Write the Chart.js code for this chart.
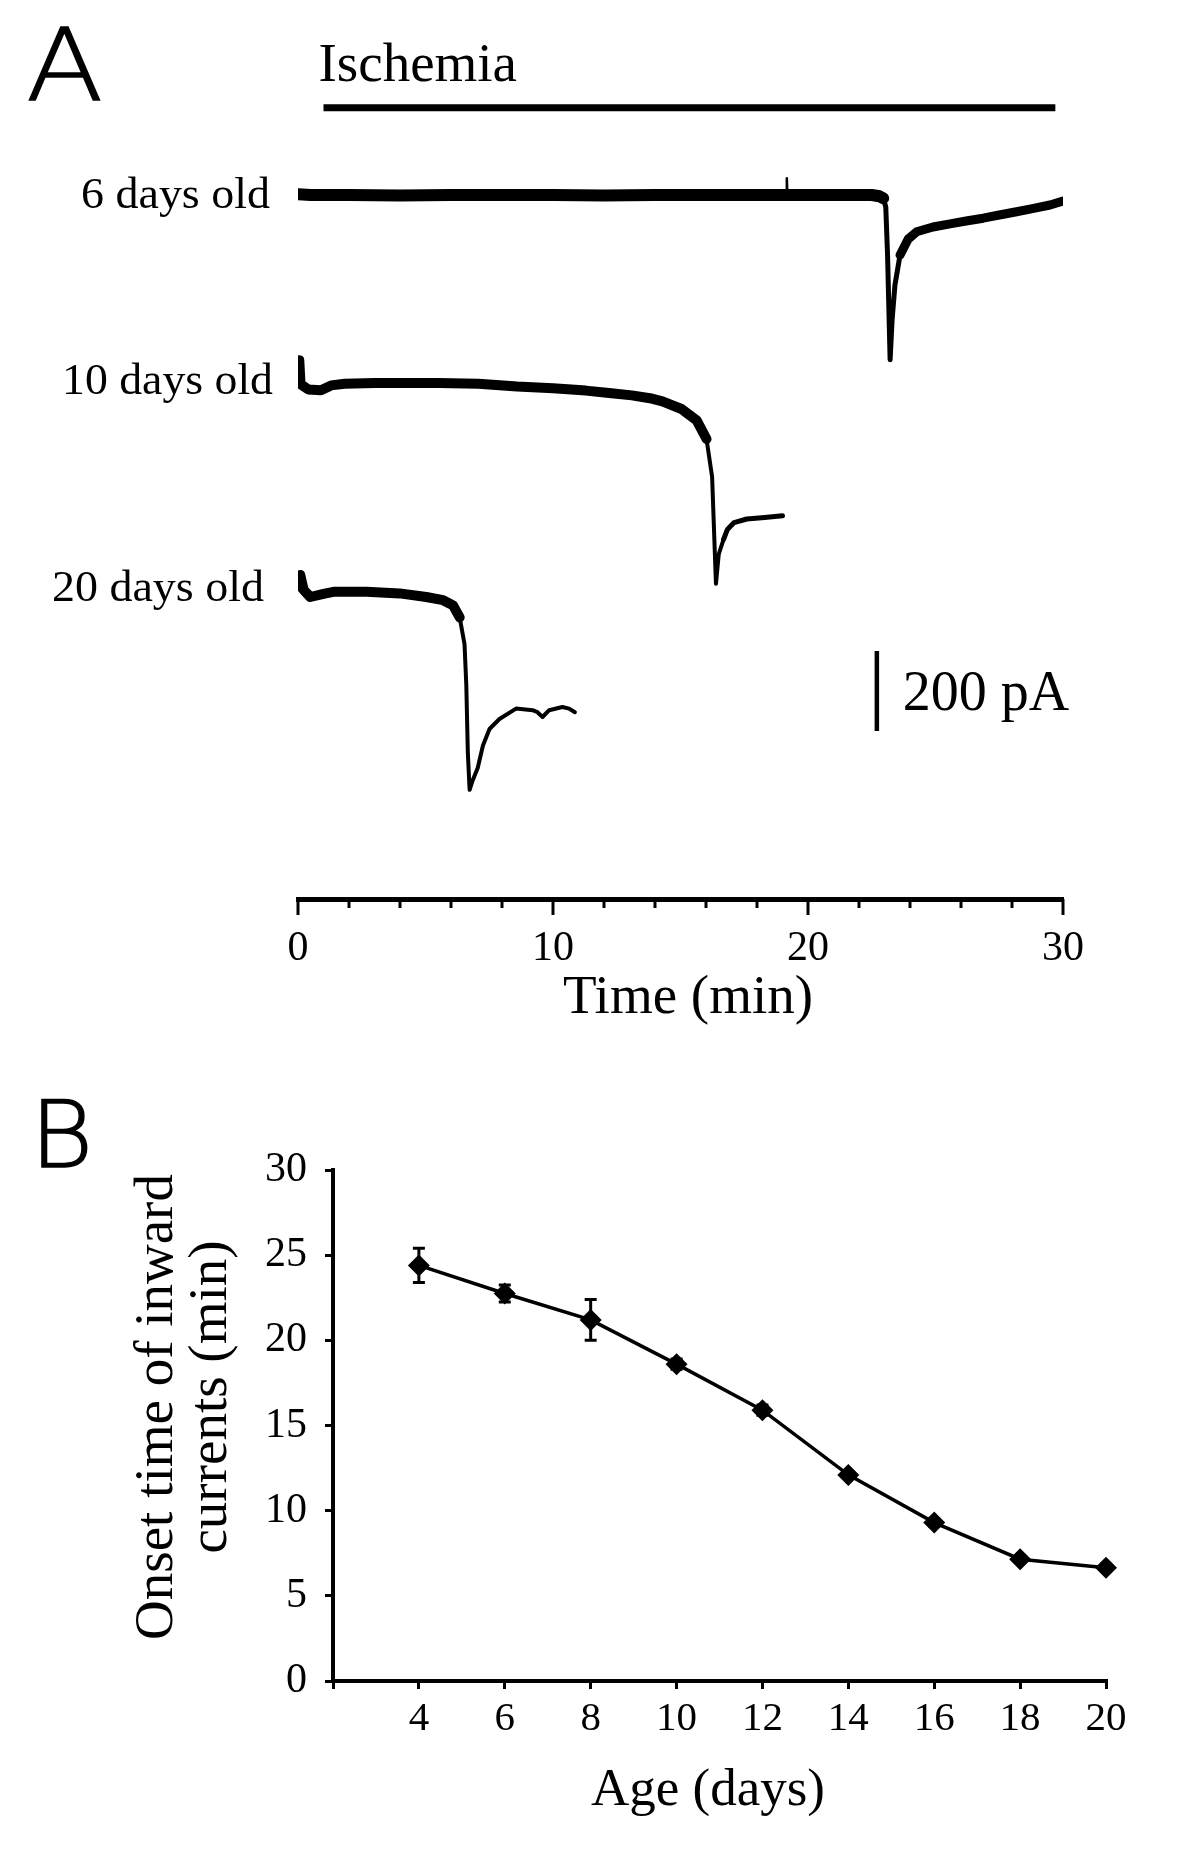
<!DOCTYPE html>
<html>
<head>
<meta charset="utf-8">
<script src="https://cdn.jsdelivr.net/npm/chart.js@4.4.1/dist/chart.umd.min.js"></script>
<style>
  html, body { margin: 0; padding: 0; background: #fff; }
  #wrap { position: relative; width: 1200px; height: 1867px; background: #fff; }
  #cA { position: absolute; left: 0; top: 0; }
  #cB { position: absolute; left: 0; top: 1060px; }
</style>
</head>
<body>
<div id="wrap">
  <canvas id="cA" width="1200" height="1060"></canvas>
  <canvas id="cB" width="1200" height="807"></canvas>
</div>
<script>
// ---------------- Panel A data: current traces (time in min, current in pA relative to baseline) ----------------
const traceLabels = ['6 days old', '10 days old', '20 days old'];

const trace6Time = [0, 0.5, 2, 4, 6, 8, 10, 12, 14, 16, 18, 19.15, 19.17, 19.19, 20, 22, 22.5, 22.8, 22.95, 23.05, 23.12, 23.22, 23.3, 23.41, 23.61, 23.93, 24.26, 24.9, 25.57, 26.2, 26.87, 27.5, 28.18, 28.8, 29.49, 30.0];
const trace6Current = [2, 0, 0, -1, 0, 0, 0, -1, 0, 0, 0, 0, 42, 0, 0, 0, 0, -3, -8, -30, -150, -412, -310, -225, -150, -110, -92, -80, -72, -65, -58, -50, -42, -34, -25, -15];

const trace10Time = [0, 0.05, 0.1, 0.4, 0.9, 1.3, 1.83, 3, 4.08, 5.5, 7.08, 8.59, 10, 11.29, 12.2, 13.09, 13.8, 14.29, 15.04, 15.64, 16.02, 16.24, 16.39, 16.5, 16.69, 16.84, 17.1, 17.6, 18.3, 19.0];
const trace10Current = [15, 55, -5, -18, -20, -8, -4, -2, -2, -2, -4, -11, -15, -21, -27, -33, -40, -48, -67, -96, -142, -237, -504, -430, -393, -368, -351, -342, -338, -334];

const trace20Time = [0, 0.09, 0.22, 0.48, 1.0, 1.39, 2.69, 3.99, 5.03, 5.69, 6.08, 6.34, 6.53, 6.6, 6.66, 6.73, 6.83, 7.05, 7.25, 7.51, 7.9, 8.55, 9.2, 9.39, 9.59, 9.85, 10.37, 10.63, 10.86];
const trace20Current = [13, 42, 5, -13, -5, 0, 0, -4, -13, -21, -34, -64, -131, -233, -402, -495, -475, -440, -385, -343, -318, -292, -296, -301, -313, -296, -288, -292, -301];

const traceOffsets = [1760, 1292, 768];       // vertical stacking of the three traces (pA)
const ischemiaPeriod = [1.0, 29.7];           // min
const timeTickLabels = ['0', '10', '20', '30'];
const scaleBarPA = 200;

// ---------------- Panel B data ----------------
const ageDays = [4, 6, 8, 10, 12, 14, 16, 18, 20];
const onsetMin = [24.4, 22.75, 21.2, 18.6, 15.9, 12.1, 9.3, 7.15, 6.65];
const onsetErr = [1.0, 0.5, 1.2, 0.3, 0.3, 0.2, 0.2, 0.2, 0.2];
const ageTickLabels = ['', '4', '6', '8', '10', '12', '14', '16', '18', '20'];
const onsetTickLabels = ['0', '5', '10', '15', '20', '25', '30'];

// ---------------- common ----------------
const SERIF = '"Liberation Serif", "Times New Roman", serif';
const LETTER = '200 {s}px "DejaVu Sans", "Open Sans", sans-serif';
Chart.defaults.font.family = SERIF;
Chart.defaults.color = '#000';

function panelLetter(ctx, ch, x, y, size, sx) {
  ctx.save();
  ctx.translate(x, y);
  ctx.scale(sx, 1);
  ctx.font = LETTER.replace('{s}', size);
  ctx.textAlign = 'left';
  ctx.textBaseline = 'alphabetic';
  ctx.fillStyle = '#000';
  ctx.strokeStyle = '#000';
  ctx.lineWidth = 1.3;
  ctx.lineJoin = 'miter';
  ctx.fillText(ch, 0, 0);
  ctx.strokeText(ch, 0, 0);
  ctx.restore();
}

// ---------------- Panel A chart ----------------
const traces = [
  { t: trace6Time, i: trace6Current, wBase: 12, wDrop: 5, wRec: 9, dropStart: 22.95, recStart: 23.6, spike: [19.14, 19.19] },
  { t: trace10Time, i: trace10Current, wBase: 10, wDrop: 4, wRec: 5, dropStart: 15.8, recStart: 16.6, spike: null },
  { t: trace20Time, i: trace20Current, wBase: 10, wDrop: 4, wRec: 4, dropStart: 6.3, recStart: 7.3, spike: null }
];

const ISCH_LEVEL = 1978;
const datasetsA = traces.map((tr, k) => ({
  label: traceLabels[k],
  data: tr.t.map((t, j) => ({ x: t, y: tr.i[j] + traceOffsets[k] })),
  borderColor: '#000',
  borderWidth: tr.wBase,
  borderJoinStyle: 'round',
  borderCapStyle: 'round',
  pointRadius: 0,
  tension: 0,
  segment: {
    borderWidth: ctx => {
      const x0 = ctx.p0.parsed.x;
      if (tr.spike && x0 >= tr.spike[0] && x0 < tr.spike[1]) return 2.5;
      if (x0 < tr.dropStart) return tr.wBase;
      if (x0 < tr.recStart) return tr.wDrop;
      return tr.wRec;
    }
  }
}));
datasetsA.push({
  label: 'Ischemia',
  data: [{ x: ischemiaPeriod[0], y: ISCH_LEVEL }, { x: ischemiaPeriod[1], y: ISCH_LEVEL }],
  borderColor: '#000',
  borderWidth: 7,
  borderCapStyle: 'butt',
  pointRadius: 0
});

const annotA = {
  id: 'annotA',
  afterDraw(chart) {
    const { ctx, chartArea: ca } = chart;
    const xs = chart.scales.x, ys = chart.scales.y;
    ctx.save();
    ctx.fillStyle = '#000';
    ctx.strokeStyle = '#000';
    // minor / major ticks
    ctx.lineWidth = 3;
    ctx.lineCap = 'butt';
    for (let t = 0; t <= 30; t += 2) {
      const px = xs.getPixelForValue(t);
      const len = (t % 10 === 0) ? 16 : 9;
      ctx.beginPath();
      ctx.moveTo(px, ca.bottom);
      ctx.lineTo(px, ca.bottom + len);
      ctx.stroke();
    }
    // scale bar
    const sbT = 22.7, sbBase = 420;
    const sbx = xs.getPixelForValue(sbT);
    ctx.lineWidth = 4.5;
    ctx.beginPath();
    ctx.moveTo(sbx, ys.getPixelForValue(sbBase));
    ctx.lineTo(sbx, ys.getPixelForValue(sbBase + scaleBarPA));
    ctx.stroke();
    ctx.textAlign = 'left';
    ctx.textBaseline = 'alphabetic';
    ctx.font = '56px ' + SERIF;
    ctx.fillText(scaleBarPA + ' pA', sbx + 26, ys.getPixelForValue(sbBase + scaleBarPA / 2) + 19);
    // Ischemia label
    ctx.font = '55px ' + SERIF;
    ctx.fillText('Ischemia', xs.getPixelForValue(ischemiaPeriod[0]) - 5, ys.getPixelForValue(ISCH_LEVEL) - 27);
    // trace labels
    const lab = [[270, 208, 189], [273, 394, 211], [264, 601, 212]];
    ctx.font = '44px ' + SERIF;
    ctx.textAlign = 'right';
    traceLabels.forEach((s, k) => {
      const w = ctx.measureText(s).width;
      ctx.save();
      ctx.translate(lab[k][0], lab[k][1]);
      ctx.scale(lab[k][2] / w, 1);
      ctx.fillText(s, 0, 0);
      ctx.restore();
    });
    // axis title
    ctx.textAlign = 'center';
    ctx.font = '55px ' + SERIF;
    ctx.fillText('Time (min)', 688, 1013);
    ctx.restore();
    // panel letter
    panelLetter(ctx, 'A', 26, 100, 100, 1.13);
  }
};

new Chart(document.getElementById('cA'), {
  type: 'line',
  data: { datasets: datasetsA },
  options: {
    animation: false,
    responsive: false,
    events: [],
    layout: { padding: { top: 20, right: 137, left: 298, bottom: 0 } },
    plugins: { legend: { display: false }, tooltip: { enabled: false } },
    scales: {
      x: {
        type: 'linear', min: 0, max: 30,
        afterFit(s) { s.height = 161; },
        grid: { display: false },
        border: { display: true, width: 5, color: '#000' },
        ticks: {
          stepSize: 10, autoSkip: false, maxRotation: 0, padding: 17,
          font: { size: 42 }, color: '#000',
          callback: (v, i) => timeTickLabels[i]
        }
      },
      y: { type: 'linear', display: false, min: 0, max: 2197.5 }
    }
  },
  plugins: [annotA]
});

// ---------------- Panel B chart ----------------
const annotB = {
  id: 'annotB',
  beforeDatasetsDraw(chart) {
    const { ctx } = chart;
    const xs = chart.scales.x, ys = chart.scales.y;
    ctx.save();
    ctx.strokeStyle = '#000';
    ctx.lineWidth = 3;
    ctx.lineCap = 'butt';
    ageDays.forEach((a, i) => {
      const px = xs.getPixelForValue(a);
      const yt = ys.getPixelForValue(onsetMin[i] + onsetErr[i]);
      const yb = ys.getPixelForValue(onsetMin[i] - onsetErr[i]);
      ctx.beginPath();
      ctx.moveTo(px, yt); ctx.lineTo(px, yb);
      ctx.moveTo(px - 6, yt); ctx.lineTo(px + 6, yt);
      ctx.moveTo(px - 6, yb); ctx.lineTo(px + 6, yb);
      ctx.stroke();
    });
    ctx.restore();
  },
  afterDraw(chart) {
    const { ctx } = chart;
    ctx.save();
    ctx.fillStyle = '#000';
    // y title (two lines, rotated)
    ctx.font = '55px ' + SERIF;
    ctx.textAlign = 'center';
    ctx.textBaseline = 'middle';
    [['Onset time of inward', 158, 347], ['currents (min)', 212, 337]].forEach(([s, x, y]) => {
      ctx.save();
      ctx.translate(x, y);
      ctx.rotate(-Math.PI / 2);
      ctx.fillText(s, 0, 0);
      ctx.restore();
    });
    // x title
    ctx.textBaseline = 'alphabetic';
    ctx.font = '53px ' + SERIF;
    ctx.fillText('Age (days)', 708, 745);
    ctx.restore();
    // panel letter
    panelLetter(ctx, 'B', 30, 107, 92, 1.05);
  }
};

const tickGrid = { display: true, drawOnChartArea: false, drawTicks: true, tickLength: 8, tickWidth: 3, tickColor: '#000', lineWidth: 3, color: '#000' };

new Chart(document.getElementById('cB'), {
  type: 'line',
  data: {
    datasets: [{
      label: 'Onset time',
      data: ageDays.map((a, i) => ({ x: a, y: onsetMin[i] })),
      borderColor: '#000',
      borderWidth: 3.5,
      pointStyle: 'rectRot',
      pointRadius: 11,
      pointBackgroundColor: '#000',
      pointBorderColor: '#000',
      pointBorderWidth: 0,
      tension: 0,
      clip: false
    }]
  },
  options: {
    animation: false,
    responsive: false,
    events: [],
    layout: { padding: { top: 110, right: 94, left: 0, bottom: 0 } },
    plugins: { legend: { display: false }, tooltip: { enabled: false } },
    scales: {
      x: {
        type: 'linear', min: 2, max: 20,
        afterFit(s) { s.height = 186; },
        grid: tickGrid,
        border: { display: true, width: 4, color: '#000' },
        ticks: {
          stepSize: 2, autoSkip: false, maxRotation: 0, padding: 6,
          font: { size: 41 }, color: '#000',
          callback: (v, i) => ageTickLabels[i]
        }
      },
      y: {
        type: 'linear', min: 0, max: 30,
        afterFit(s) { s.width = 333; },
        grid: tickGrid,
        border: { display: true, width: 4, color: '#000' },
        ticks: {
          stepSize: 5, autoSkip: false, padding: 18,
          font: { size: 42 }, color: '#000',
          callback: (v, i) => onsetTickLabels[i]
        }
      }
    }
  },
  plugins: [annotB]
});
</script>
</body>
</html>
